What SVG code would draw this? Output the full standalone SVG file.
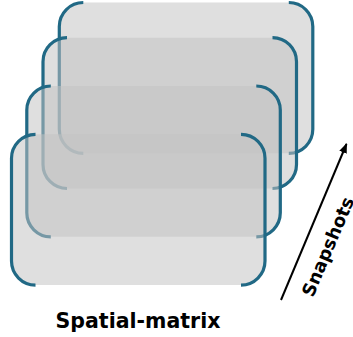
<svg xmlns="http://www.w3.org/2000/svg" width="353" height="337" viewBox="0 0 353 337">
<style>
.fill{fill:#c2c2c2;fill-opacity:0.53;stroke:none}
.br{fill:none;stroke:#216985;stroke-width:3.2}
.lbl{font-family:"DejaVu Sans",Verdana,sans-serif;font-weight:bold;fill:#000}
</style>
<defs>
<marker id="ah" markerWidth="10" markerHeight="10" refX="9" refY="5" orient="auto" markerUnits="userSpaceOnUse">
<path d="M0,1 L10,5 L0,9 Z" fill="#000"/>
</marker>
</defs>
<rect width="353" height="337" fill="#fff"/>
<g id="layer1">
<rect class="fill" x="59.3" y="2.5" width="253.5" height="150.8" rx="24"/>
<path class="br" d="M83.3,2.5 A24,24 0 0 0 59.3,26.5 V129.3 A24,24 0 0 0 83.3,153.3 M288.8,2.5 A24,24 0 0 1 312.8,26.5 V129.3 A24,24 0 0 1 288.8,153.3"/>
</g>
<g id="layer2">
<rect class="fill" x="43" y="37.7" width="253.5" height="150.8" rx="24"/>
<path class="br" d="M67,37.7 A24,24 0 0 0 43,61.7 V164.5 A24,24 0 0 0 67,188.5 M272.5,37.7 A24,24 0 0 1 296.5,61.7 V164.5 A24,24 0 0 1 272.5,188.5"/>
</g>
<g id="layer3">
<rect class="fill" x="26.8" y="86" width="253.5" height="150.8" rx="24"/>
<path class="br" d="M50.8,86 A24,24 0 0 0 26.8,110 V212.8 A24,24 0 0 0 50.8,236.8 M256.3,86 A24,24 0 0 1 280.3,110 V212.8 A24,24 0 0 1 256.3,236.8"/>
</g>
<g id="layer4">
<rect class="fill" x="11.5" y="134.3" width="253.5" height="150.8" rx="24"/>
<path class="br" d="M35.5,134.3 A24,24 0 0 0 11.5,158.3 V261.1 A24,24 0 0 0 35.5,285.1 M241,134.3 A24,24 0 0 1 265,158.3 V261.1 A24,24 0 0 1 241,285.1"/>
</g>
<g id="connectors">
<line x1="281" y1="300" x2="346.5" y2="144" stroke="#000" stroke-width="2" marker-end="url(#ah)"/>
</g>
<text class="lbl" x="138" y="327.5" font-size="20.5" text-anchor="middle">Spatial-matrix</text>
<text class="lbl" font-size="18" transform="translate(313,298) rotate(-67)">Snapshots</text>
</svg>
